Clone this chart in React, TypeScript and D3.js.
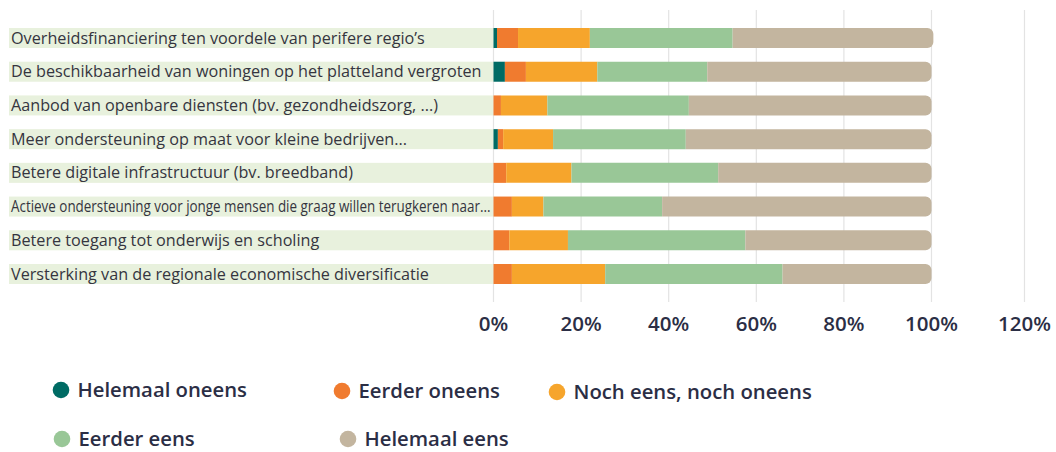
import React, { useEffect, useRef } from 'react';
import * as d3 from 'd3';

const categories = [
  'Overheidsfinanciering ten voordele van perifere regio’s',
  'De beschikbaarheid van woningen op het platteland vergroten',
  'Aanbod van openbare diensten (bv. gezondheidszorg, ...)',
  'Meer ondersteuning op maat voor kleine bedrijven...',
  'Betere digitale infrastructuur (bv. breedband)',
  'Actieve ondersteuning voor jonge mensen die graag willen terugkeren naar...',
  'Betere toegang tot onderwijs en scholing',
  'Versterking van de regionale economische diversificatie',
];

const seriesNames = [
  'Helemaal oneens',
  'Eerder oneens',
  'Noch eens, noch oneens',
  'Eerder eens',
  'Helemaal eens',
];

// percentages per category, one array per answer
const helemaalOneens = [0.8, 2.6, 0, 1.0, 0, 0, 0, 0];
const eerderOneens = [4.8, 4.8, 1.7, 1.2, 2.9, 4.2, 3.6, 4.2];
const noch = [16.4, 16.3, 10.6, 11.4, 14.9, 7.2, 13.4, 21.3];
const eerderEens = [32.6, 25.1, 32.3, 30.3, 33.5, 27.1, 40.5, 40.5];
const helemaalEens = [45.8, 51.2, 55.4, 56.1, 48.7, 61.5, 42.5, 34.0];

const ticks = [0, 20, 40, 60, 80, 100, 120];

const colors = ['#006b64', '#f07b2f', '#f6a52c', '#99c797', '#c3b59f'];

// legend layout (position of each marker)
const legendPos = [
  [61, 390], [342, 391], [557, 392],
  [62, 439], [348, 439],
];

const W = 1056;
const H = 452;

function segPath(x0: number, x1: number, y: number, h: number, r: number) {
  const rr = Math.min(r, (x1 - x0), h / 2);
  if (rr <= 0) return `M${x0},${y}H${x1}V${y + h}H${x0}Z`;
  return `M${x0},${y}H${x1 - rr}A${rr},${rr} 0 0 1 ${x1},${y + rr}V${y + h - rr}A${rr},${rr} 0 0 1 ${x1 - rr},${y + h}H${x0}Z`;
}

export default function App() {
  const ref = useRef<SVGSVGElement>(null);

  useEffect(() => {
    const svg = d3.select(ref.current);
    svg.selectAll('*').remove();

    const series = [helemaalOneens, eerderOneens, noch, eerderEens, helemaalEens];
    const rows = categories.map((c, i) => {
      const obj: any = { cat: c };
      seriesNames.forEach((s, k) => (obj[s] = series[k][i]));
      return obj;
    });
    const stacked = d3.stack().keys(seriesNames)(rows);

    const x = d3.scaleLinear().domain([0, 100, 120]).range([493.5, 931.5, 1024.5]);
    const y = d3.scaleBand().domain(categories).range([28, 284]).paddingInner(0.406);

    const font = "'Open Sans', sans-serif";

    // grid
    svg.append('g')
      .selectAll('line')
      .data(ticks)
      .join('line')
      .attr('x1', (d) => x(d))
      .attr('x2', (d) => x(d))
      .attr('y1', 10)
      .attr('y2', 302)
      .attr('stroke', '#e3e3e3')
      .attr('stroke-width', 1.2);

    // label bands
    const lab = svg.append('g');
    lab.selectAll('rect')
      .data(categories)
      .join('rect')
      .attr('x', 9)
      .attr('y', (d) => y(d)!)
      .attr('width', x(0) - 9)
      .attr('height', y.bandwidth())
      .attr('fill', '#e8f1dd');

    const maxW = x(0) - 14;
    lab.selectAll('text')
      .data(categories)
      .join('text')
      .attr('x', 11)
      .attr('y', (d) => y(d)! + y.bandwidth() / 2 + 5.6)
      .attr('font-family', font)
      .attr('font-size', 16.2)
      .attr('fill', '#35353f')
      .text((d) => d)
      .each(function () {
        const t = this as SVGTextElement;
        if (t.getComputedTextLength() > maxW) {
          t.setAttribute('textLength', String(maxW));
          t.setAttribute('lengthAdjust', 'spacingAndGlyphs');
        }
      });

    // bars
    const last = seriesNames.length - 1;
    svg.append('g')
      .selectAll('g')
      .data(stacked)
      .join('g')
      .attr('fill', (_, k) => colors[k])
      .selectAll('path')
      .data((s, k) => s.map((p) => ({ p, k })))
      .join('path')
      .attr('d', ({ p, k }: any) =>
        segPath(x(p[0]), x(p[1]), y(p.data.cat)!, y.bandwidth(), k === last ? 6 : 0)
      );

    // x tick labels
    svg.append('g')
      .selectAll('text')
      .data(ticks)
      .join('text')
      .attr('x', (d) => x(d))
      .attr('y', 331)
      .attr('text-anchor', 'middle')
      .attr('font-family', font)
      .attr('font-weight', 600)
      .attr('font-size', 20.5)
      .attr('fill', '#2b2e45')
      .text((d) => `${d}%`);

    // legend
    const lg = svg.append('g')
      .selectAll('g')
      .data(seriesNames)
      .join('g')
      .attr('transform', (_, i) => `translate(${legendPos[i][0]},${legendPos[i][1]})`);
    lg.append('circle').attr('r', 8.3).attr('fill', (_, i) => colors[i]);
    lg.append('text')
      .attr('x', 16.5)
      .attr('y', 7)
      .attr('font-family', font)
      .attr('font-weight', 600)
      .attr('font-size', 20.3)
      .attr('fill', '#2b2e45')
      .text((d) => d);
  }, []);

  return <svg ref={ref} width={W} height={H} style={{ position: 'absolute', left: 0, top: 0 }} />;
}
